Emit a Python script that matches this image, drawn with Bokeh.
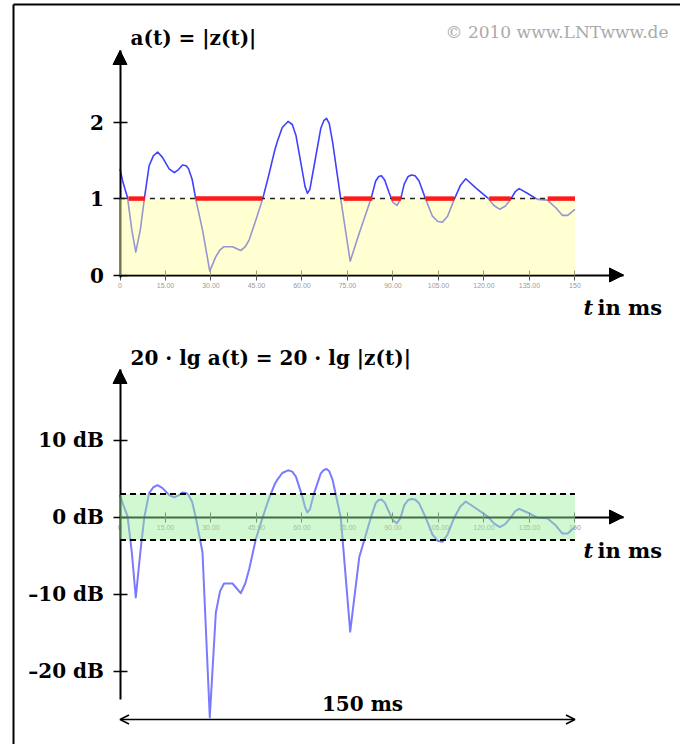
import numpy as np
from bokeh.plotting import figure
from bokeh.models import Range1d, LinearAxis, FixedTicker, Arrow, NormalHead, OpenHead
from bokeh.core.properties import value
from bokeh.embed import file_html
from bokeh.resources import INLINE

# ---------------- data ----------------
t_ms = [0.0, 1.0, 2.5, 3.9, 5.2, 6.7, 8.0, 9.6, 11.0, 12.4, 14.0, 16.2, 17.9, 19.3,
        20.6, 21.8, 22.6, 23.8, 25.0, 27.2, 29.6, 31.6, 33.0, 34.3, 37.1, 39.8,
        41.3, 42.6, 44.8, 47.0, 49.0, 51.0, 51.9, 53.5, 55.4, 56.8, 58.0, 60.2,
        61.0, 61.8, 62.6, 64.0, 66.2, 67.2, 68.1, 69.0, 70.1, 72.8, 75.9, 78.9,
        82.7, 84.3, 85.3, 86.2, 87.3, 88.7, 90.0, 91.3, 92.5, 93.7, 95.0, 96.1,
        97.3, 98.6, 100.8, 103.0, 104.8, 106.3, 108.0, 110.2, 112.2, 114.0, 117.3,
        121.2, 123.3, 125.2, 127.0, 128.8, 130.3, 131.6, 134.3, 137.6, 140.9,
        143.7, 145.9, 147.6, 150.0]
a_vals = [1.39, 1.21, 1.01, 0.59, 0.30, 0.59, 0.99, 1.43, 1.56, 1.61, 1.54, 1.39, 1.34, 1.38,
          1.44, 1.43, 1.39, 1.25, 0.99, 0.59, 0.05, 0.24, 0.33, 0.37, 0.37, 0.32,
          0.37, 0.46, 0.72, 0.99, 1.30, 1.63, 1.75, 1.93, 2.01, 1.97, 1.83, 1.34,
          1.16, 1.07, 1.12, 1.43, 1.92, 2.02, 2.05, 1.98, 1.74, 0.99, 0.18, 0.55,
          0.99, 1.23, 1.29, 1.30, 1.24, 1.08, 0.95, 0.91, 0.99, 1.19, 1.29, 1.31,
          1.30, 1.23, 0.99, 0.77, 0.70, 0.69, 0.77, 0.99, 1.17, 1.26, 1.14,
          1.01, 0.91, 0.86, 0.90, 0.99, 1.09, 1.13, 1.07, 0.99, 0.98,
          0.88, 0.78, 0.78, 0.86]
red_start = [2.8, 25.0, 73.7, 89.5, 100.8, 121.7, 141.0]
red_end = [8.2, 46.9, 83.2, 92.6, 110.2, 128.8, 150.0]
a_ref = 1.0
db_tol = 3.0
t_ticks = [0, 15, 30, 45, 60, 75, 90, 105, 120, 135, 150]
t_tick_labels = ["0", "15.00", "30.00", "45.00", "60.00", "75.00", "90.00",
                 "105.00", "120.00", "135.00", "150"]
a_ticks = [0, 1, 2]
a_tick_labels = ["0", "1", "2"]
db_ticks = [-20, -10, 0, 10]
db_tick_labels = ["\u201320 dB", "\u201310 dB", "0 dB", "10 dB"]
span_label = "150 ms"

db_vals = list(20 * np.log10(np.array(a_vals)))

# ---------------- layout helpers (pixel -> data) ----------------
W, H = 680, 744
T0_PX, PX_PER_MS = 119.5, 3.033
A0_PX, PX_PER_A = 274.5, 76.4
DB0_PX, PX_PER_DB = 516.5, 7.7

def t_of(px): return (px - T0_PX) / PX_PER_MS
def a_of(py): return (A0_PX - py) / PX_PER_A
def db_of(py): return (DB0_PX - py) / PX_PER_DB

SERIF = value("DejaVu Serif")

p = figure(width=W, height=H, output_backend="svg", toolbar_location=None,
           x_range=Range1d(t_of(0), t_of(W)), y_range=Range1d(a_of(H), a_of(0)),
           x_axis_type=None, y_axis_type=None, min_border=0,
           outline_line_color=None, background_fill_color="white")
p.extra_y_ranges = {"db": Range1d(db_of(H), db_of(0))}

t_end = t_of(623)

# ---------------- axes ----------------
def style_x(ax):
    ax.ticker = FixedTicker(ticks=t_ticks)
    ax.major_label_overrides = dict(zip(t_ticks, t_tick_labels))
    ax.major_tick_in = 5
    ax.major_tick_out = 5
    ax.major_tick_line_color = "#555555"
    ax.minor_tick_line_color = None
    ax.axis_line_width = 2
    ax.axis_line_color = "black"
    ax.major_label_text_font_size = "7px"
    ax.major_label_text_color = "#9a9a9a"
    ax.major_label_standoff = 3

def style_y(ax):
    ax.major_tick_in = 7
    ax.major_tick_out = 7
    ax.major_tick_line_width = 1.5
    ax.major_tick_line_color = "black"
    ax.minor_tick_line_color = None
    ax.axis_line_width = 2
    ax.axis_line_color = "black"
    ax.major_label_text_font = "DejaVu Serif"
    ax.major_label_text_font_style = "bold"
    ax.major_label_text_font_size = "20px"
    ax.major_label_text_color = "black"
    ax.major_label_standoff = 9

xa1 = LinearAxis(fixed_location=0, bounds=(0, t_end))
style_x(xa1)
p.add_layout(xa1, "below")

xa2 = LinearAxis(fixed_location=0, bounds=(0, t_end), y_range_name="db")
style_x(xa2)
p.add_layout(xa2, "below")

ya1 = LinearAxis(fixed_location=0, bounds=(-0.03, a_of(50)),
                 ticker=FixedTicker(ticks=a_ticks),
                 major_label_overrides=dict(zip(a_ticks, a_tick_labels)))
style_y(ya1)
p.add_layout(ya1, "left")

ya2 = LinearAxis(fixed_location=0, bounds=(db_of(699), db_of(369)), y_range_name="db",
                 ticker=FixedTicker(ticks=db_ticks),
                 major_label_overrides=dict(zip(db_ticks, db_tick_labels)))
style_y(ya2)
p.add_layout(ya2, "left")

# arrow heads
def head():
    return NormalHead(size=14, fill_color="black", line_color="black", line_width=1)

p.add_layout(Arrow(end=head(), x_start=t_end - 4, y_start=0, x_end=t_end, y_end=0, line_alpha=0))
p.add_layout(Arrow(end=head(), x_start=t_end - 4, y_start=0, x_end=t_end, y_end=0,
                   line_alpha=0, y_range_name="db"))
p.add_layout(Arrow(end=head(), x_start=0, y_start=a_of(60), x_end=0, y_end=a_of(50), line_alpha=0))
p.add_layout(Arrow(end=head(), x_start=0, y_start=db_of(380), x_end=0, y_end=db_of(369),
                   line_alpha=0, y_range_name="db"))

# ---------------- top chart ----------------
p.line(t_ms, a_vals, line_color="#4040ff", line_width=1.6, line_join="round")
p.quad(left=[t_ms[0]], right=[t_ms[-1]], bottom=[0], top=[a_ref],
       fill_color="#ffff9a", fill_alpha=0.45, line_color=None, level="annotation")
p.line([t_ms[0], t_ms[-1]], [a_ref, a_ref], line_color="#222222", line_width=1.5,
       line_dash="5 5", level="overlay")
p.segment(x0=red_start, y0=[a_ref] * len(red_start), x1=red_end, y1=[a_ref] * len(red_end),
          line_color="#ff1a1a", line_width=4.5, level="overlay")

# ---------------- bottom chart ----------------
p.line(t_ms, db_vals, line_color="#7a7aff", line_width=2, y_range_name="db", line_join="round")
p.quad(left=[t_ms[0]], right=[t_ms[-1]], bottom=[-db_tol], top=[db_tol],
       fill_color="#9cf09c", fill_alpha=0.45, line_color=None, level="annotation",
       y_range_name="db")
p.segment(x0=[t_ms[0], t_ms[0]], y0=[db_tol, -db_tol], x1=[t_ms[-1], t_ms[-1]],
          y1=[db_tol, -db_tol], line_color="black", line_width=2, line_dash="6 4",
          level="overlay", y_range_name="db")

# 150 ms dimension arrow
y_dim = db_of(719)
p.add_layout(Arrow(start=OpenHead(size=9, line_width=1.5), end=OpenHead(size=9, line_width=1.5),
                   x_start=t_ms[0], y_start=y_dim, x_end=t_ms[-1], y_end=y_dim,
                   line_width=1.5, y_range_name="db"))

# ---------------- texts ----------------
p.text(x=[t_of(130)], y=[a_of(37)], text=["a(t) = |z(t)|"], text_font=SERIF,
       text_font_style="bold", text_font_size="20px", text_baseline="middle", level="overlay")
p.text(x=[t_of(130)], y=[a_of(357)], text=["20 \u00b7 lg a(t) = 20 \u00b7 lg |z(t)|"],
       text_font=SERIF, text_font_style="bold", text_font_size="20px",
       text_baseline="middle", level="overlay")
p.text(x=[t_of(668)], y=[a_of(31)], text=["\u00a9 2010 www.LNTwww.de"], text_font=SERIF,
       text_font_size="17px", text_color="#aaaaaa", text_align="right",
       text_baseline="middle", level="overlay")
for py in (307, 550):
    p.text(x=[t_of(583)], y=[a_of(py)], text=["t"], text_font=SERIF,
           text_font_style="bold italic", text_font_size="21px", text_baseline="middle",
           level="overlay")
    p.text(x=[t_of(597)], y=[a_of(py)], text=["in ms"], text_font=SERIF,
           text_font_style="bold", text_font_size="21px", text_baseline="middle",
           level="overlay")
p.text(x=[t_of(362)], y=[a_of(703)], text=[span_label], text_font=SERIF,
       text_font_style="bold", text_font_size="20px", text_align="center",
       text_baseline="middle", level="overlay")

# frame border
p.line([t_of(13), t_of(13)], [a_of(H), a_of(4)], line_color="black", line_width=2, level="overlay")
p.line([t_of(13), t_of(W)], [a_of(4), a_of(4)], line_color="black", line_width=2, level="overlay")

open("out.html", "w").write(file_html(p, INLINE))
